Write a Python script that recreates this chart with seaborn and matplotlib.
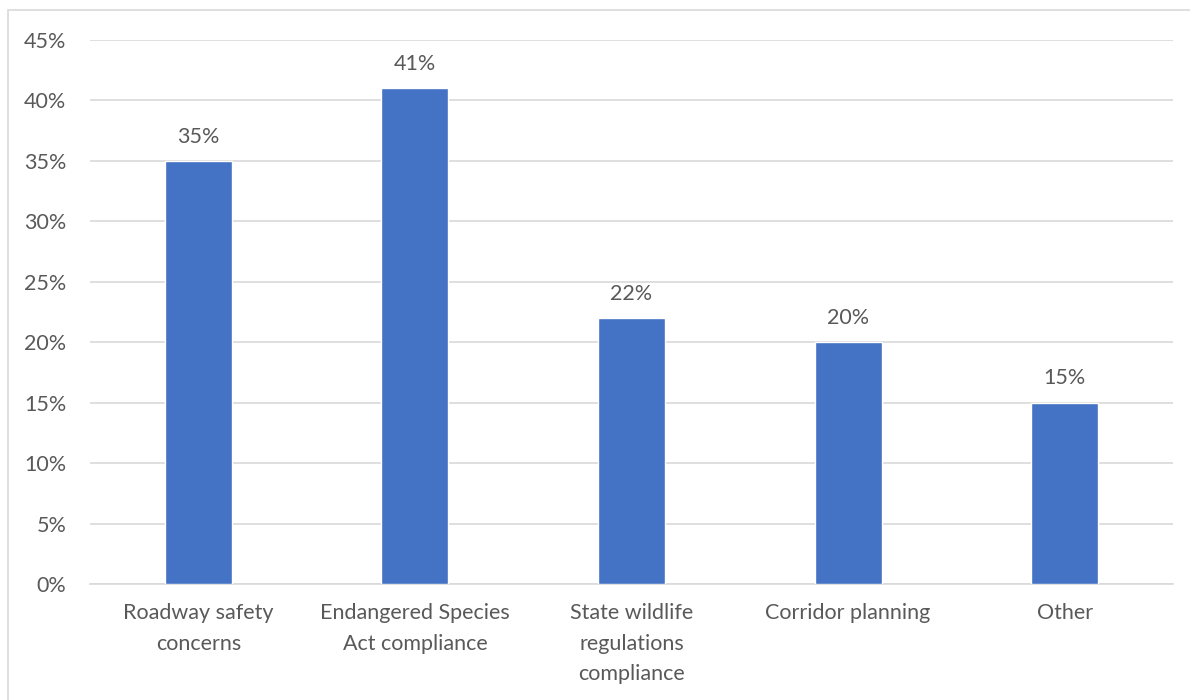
import matplotlib
matplotlib.use("Agg")
import matplotlib.pyplot as plt
import seaborn as sns
import pandas as pd
from matplotlib.patches import Rectangle
from matplotlib.ticker import MultipleLocator, FuncFormatter

categories = ["Roadway safety\nconcerns", "Endangered Species\nAct compliance",
              "State wildlife\nregulations\ncompliance", "Corridor planning", "Other"]
values = [0.35, 0.41, 0.22, 0.20, 0.15]
value_labels = ["35%", "41%", "22%", "20%", "15%"]

sns.set_style("white")
plt.rcParams['font.family'] = ['Lato', 'DejaVu Sans']
text_color = "#595959"
fs = 15.5

df = pd.DataFrame({"cat": categories, "val": values})
fig = plt.figure(figsize=(11.9, 7), dpi=100)
ax = fig.add_axes([90/1190, 1-584/700, (1173-90)/1190, (584-40)/700])
sns.barplot(data=df, x="cat", y="val", color="#4472C4", width=0.31,
            saturation=1, ax=ax, zorder=3)
ax.set_ylim(0, 0.45)
ax.yaxis.set_major_locator(MultipleLocator(0.05))
ax.yaxis.set_major_formatter(FuncFormatter(lambda v, p: f"{round(v*100)}%"))
ax.grid(axis="y", color="#d9d9d9", linewidth=1.2, zorder=0)
ax.set_axisbelow(True)
for s in ["top", "right", "left"]:
    ax.spines[s].set_visible(False)
ax.spines["bottom"].set_color("#d9d9d9")
ax.spines["bottom"].set_linewidth(1.2)
ax.set_xlabel("")
ax.set_ylabel("")
ax.tick_params(axis="both", length=0, colors=text_color, labelsize=fs)
ax.tick_params(axis="x", pad=14)
ax.tick_params(axis="y", pad=17)
ax.set_xticks(range(len(categories)))
ax.set_xticklabels(categories, linespacing=1.63, va="top", color=text_color, fontsize=fs)
for i, (v, t) in enumerate(zip(values, value_labels)):
    ax.annotate(t, (i, v), xytext=(0, 17.5), textcoords="offset points",
                ha="center", va="center", color=text_color, fontsize=fs)

fig.patches.append(Rectangle((8/1190, -0.1), 1.2, 1-10/700+0.1, transform=fig.transFigure,
                             fill=False, edgecolor="#d9d9d9", linewidth=1.2))
fig.savefig("out.png", dpi=100)
